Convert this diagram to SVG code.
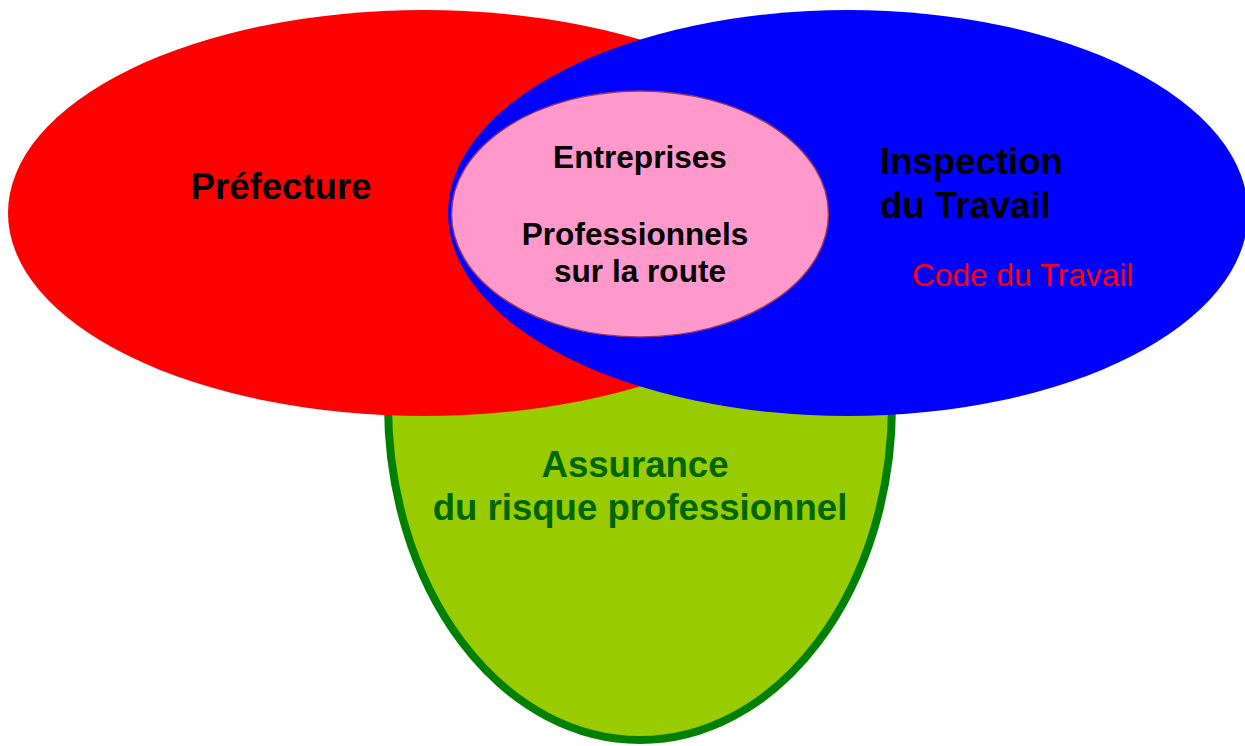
<svg xmlns="http://www.w3.org/2000/svg" width="1245" height="746" viewBox="0 0 1245 746">
<style>
.b{font-family:"Liberation Sans",Arial,sans-serif;font-weight:bold;font-size:36.6px;fill:#000}
.m{font-family:"Liberation Sans",Arial,sans-serif;font-weight:bold;font-size:31.6px;fill:#000}
.c{text-anchor:middle}
</style>
<rect width="1245" height="746" fill="#fff"/>
<g id="assurance">
<ellipse cx="640" cy="405" rx="252" ry="335" fill="#99cc00" stroke="#008000" stroke-width="8"/>
<text class="b c" x="635" y="477" fill="#006600" style="fill:#006600">Assurance</text>
<text class="b c" x="640" y="520" style="fill:#006600">du risque professionnel</text>
</g>
<g id="prefecture">
<ellipse cx="424" cy="213" rx="416" ry="203" fill="#ff0000"/>
<text class="b c" x="281" y="199">Préfecture</text>
</g>
<g id="inspection">
<ellipse cx="848" cy="213" rx="400" ry="203" fill="#0000ff"/>
<text class="b" x="880" y="174">Inspection</text>
<text class="b" x="880" y="218">du Travail</text>
<text x="912" y="286" font-family="Liberation Sans, Arial, sans-serif" font-size="31.6" fill="#ff0000">Code du Travail</text>
</g>
<g id="entreprises">
<ellipse cx="640" cy="214" rx="188.5" ry="123" fill="#ff99cc" stroke="#993366" stroke-width="1.5"/>
<text class="m c" x="640" y="168">Entreprises</text>
<text class="m c" x="635" y="245">Professionnels</text>
<text class="m c" x="640" y="282">sur la route</text>
</g>
<g id="connectors"/>
</svg>
